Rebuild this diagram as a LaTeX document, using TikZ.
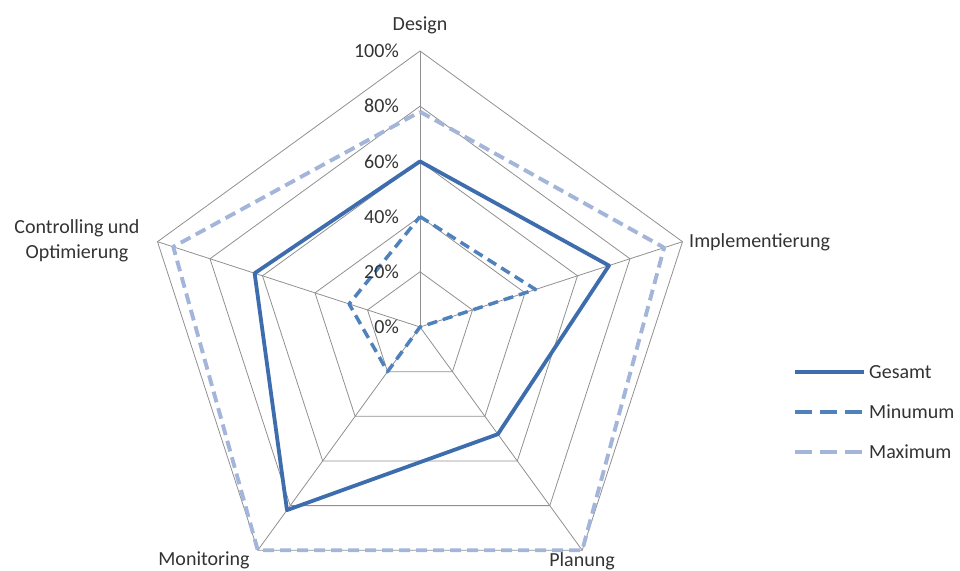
\documentclass[tikz,border=0pt]{standalone}
\usepackage{fontspec}
\setmainfont{Carlito}
\definecolor{gridc}{HTML}{909090}
\definecolor{gesc}{HTML}{3E6DAE}
\definecolor{minc}{HTML}{4F81BD}
\definecolor{maxc}{HTML}{A3B6DA}
\definecolor{txtc}{HTML}{333333}
\begin{document}
\begin{tikzpicture}[x=1pt,y=1pt,
  gridline/.style={draw=gridc,line width=0.8pt},
  gesline/.style={draw=gesc,line width=3.8pt,line join=round},
  minline/.style={draw=minc,line width=3.5pt,line join=round,dash pattern=on 10pt off 6pt},
  maxline/.style={draw=maxc,line width=3.9pt,line join=round,dash pattern=on 11pt off 6pt},
  lbl/.style={font=\fontsize{20}{24}\selectfont,text=txtc,inner sep=0pt},
  tick/.style={font=\fontsize{20}{24}\selectfont,text=txtc,inner sep=0pt,anchor=east}]
\useasboundingbox (0,0) rectangle (960,570);
\def\R{276}
\begin{scope}[shift={(420,243)}]
  \foreach \f in {0.2,0.4,0.6,0.8,1.0}{
    \draw[gridline] (90:{\f*\R}) -- (18:{\f*\R}) -- (-54:{\f*\R}) -- (-126:{\f*\R}) -- (162:{\f*\R}) -- cycle;
  }
  \foreach \a in {90,18,-54,-126,162}{
    \draw[gridline] (0,0) -- (\a:\R);
  }
  % series
  \draw[gesline] (90:{0.60*\R}) -- (18:{0.72*\R}) -- (-54:{0.48*\R}) -- (-126:{0.82*\R}) -- (162:{0.63*\R}) -- cycle;
  \draw[minline] (90:{0.40*\R}) -- (18:{0.44*\R}) -- (0,0) -- (-126:{0.20*\R}) -- (162:{0.27*\R}) -- cycle;
  \draw[maxline] (90:{0.78*\R}) -- (18:{0.93*\R}) -- (-54:{1.0*\R}) -- (-126:{1.0*\R}) -- (162:{0.94*\R}) -- cycle;
  % tick labels
  \foreach \f/\t in {0/0,0.2/20,0.4/40,0.6/60,0.8/80,1.0/100}{
    \node[tick] (tick\t) at (-21,{\f*\R}) {\t\%};
  }
\end{scope}
% category labels
\node[lbl] (design) at (420,545) {Design};
\node[lbl,anchor=west] (impl) at (689,328) {Implementierung};
\node[lbl,anchor=north] (plan) at (582,18) {Planung};
\node[lbl,anchor=north] (moni) at (204,18) {Monitoring};
\node[lbl,align=center] (contr) at (77,329) {Controlling und\\[1pt]Optimierung};
% legend
\coordinate (g1) at (795,198); \coordinate (g2) at (864,198);
\coordinate (n1) at (795,158); \coordinate (n2) at (864,158);
\coordinate (m1) at (795,118); \coordinate (m2) at (864,118);
\draw[gesline] (g1) -- (g2);
\draw[minline,dash pattern=on 17pt off 8pt] (n1) -- (n2);
\draw[maxline,dash pattern=on 17pt off 8pt] (m1) -- (m2);
\node[lbl,anchor=west] (lg) at (869,198) {Gesamt};
\node[lbl,anchor=west] (ln) at (869,158) {Minumum};
\node[lbl,anchor=west] (lm) at (869,118) {Maximum};
\end{tikzpicture}
\end{document}
